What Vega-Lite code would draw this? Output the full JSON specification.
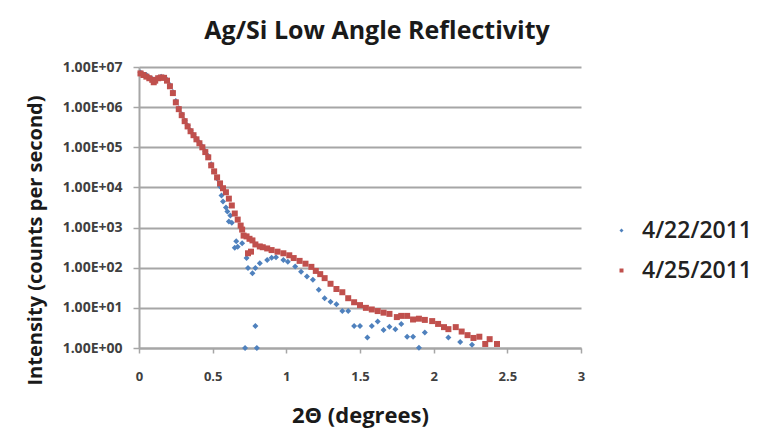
{
  "$schema": "https://vega.github.io/schema/vega-lite/v6.json",
  "width": 442,
  "height": 281,
  "autosize": {"type": "none"},
  "padding": {"left": 139, "top": 67, "right": 186, "bottom": 94},
  "background": "white",
  "config": {"view": {"stroke": null}},
  "title": {"text": "Ag/Si Low Angle Reflectivity", "font": "Open Sans", "fontSize": 25, "fontWeight": "bold", "color": "#1a1a1a", "anchor": "middle", "frame": "group", "dx": 17, "offset": -4, "baseline": "alphabetic"},
  "data": {"values": [
    {"angle": 0.01, "intensity": 7244000, "date": "4/22/2011"},
    {"angle": 0.03, "intensity": 6607000, "date": "4/22/2011"},
    {"angle": 0.05, "intensity": 6310000, "date": "4/22/2011"},
    {"angle": 0.07, "intensity": 5495000, "date": "4/22/2011"},
    {"angle": 0.09, "intensity": 5012000, "date": "4/22/2011"},
    {"angle": 0.11, "intensity": 4786000, "date": "4/22/2011"},
    {"angle": 0.13, "intensity": 5370000, "date": "4/22/2011"},
    {"angle": 0.15, "intensity": 5754000, "date": "4/22/2011"},
    {"angle": 0.17, "intensity": 5495000, "date": "4/22/2011"},
    {"angle": 0.19, "intensity": 4786000, "date": "4/22/2011"},
    {"angle": 0.21, "intensity": 3548000, "date": "4/22/2011"},
    {"angle": 0.23, "intensity": 2399000, "date": "4/22/2011"},
    {"angle": 0.25, "intensity": 1413000, "date": "4/22/2011"},
    {"angle": 0.27, "intensity": 933000, "date": "4/22/2011"},
    {"angle": 0.29, "intensity": 661000, "date": "4/22/2011"},
    {"angle": 0.31, "intensity": 468000, "date": "4/22/2011"},
    {"angle": 0.33, "intensity": 347000, "date": "4/22/2011"},
    {"angle": 0.35, "intensity": 263000, "date": "4/22/2011"},
    {"angle": 0.37, "intensity": 204000, "date": "4/22/2011"},
    {"angle": 0.39, "intensity": 162000, "date": "4/22/2011"},
    {"angle": 0.41, "intensity": 132000, "date": "4/22/2011"},
    {"angle": 0.43, "intensity": 105000, "date": "4/22/2011"},
    {"angle": 0.45, "intensity": 79400, "date": "4/22/2011"},
    {"angle": 0.47, "intensity": 60300, "date": "4/22/2011"},
    {"angle": 0.49, "intensity": 38000, "date": "4/22/2011"},
    {"angle": 0.51, "intensity": 25100, "date": "4/22/2011"},
    {"angle": 0.53, "intensity": 16600, "date": "4/22/2011"},
    {"angle": 0.55, "intensity": 10500, "date": "4/22/2011"},
    {"angle": 0.56, "intensity": 6310, "date": "4/22/2011"},
    {"angle": 0.57, "intensity": 4470, "date": "4/22/2011"},
    {"angle": 0.59, "intensity": 3160, "date": "4/22/2011"},
    {"angle": 0.60, "intensity": 2510, "date": "4/22/2011"},
    {"angle": 0.61, "intensity": 1410, "date": "4/22/2011"},
    {"angle": 0.62, "intensity": 2000, "date": "4/22/2011"},
    {"angle": 0.63, "intensity": 1320, "date": "4/22/2011"},
    {"angle": 0.65, "intensity": 316, "date": "4/22/2011"},
    {"angle": 0.66, "intensity": 457, "date": "4/22/2011"},
    {"angle": 0.67, "intensity": 331, "date": "4/22/2011"},
    {"angle": 0.70, "intensity": 407, "date": "4/22/2011"},
    {"angle": 0.72, "intensity": 1, "date": "4/22/2011"},
    {"angle": 0.73, "intensity": 174, "date": "4/22/2011"},
    {"angle": 0.74, "intensity": 97.7, "date": "4/22/2011"},
    {"angle": 0.77, "intensity": 72.4, "date": "4/22/2011"},
    {"angle": 0.79, "intensity": 97.7, "date": "4/22/2011"},
    {"angle": 0.79, "intensity": 3.55, "date": "4/22/2011"},
    {"angle": 0.80, "intensity": 1, "date": "4/22/2011"},
    {"angle": 0.82, "intensity": 129, "date": "4/22/2011"},
    {"angle": 0.87, "intensity": 155, "date": "4/22/2011"},
    {"angle": 0.90, "intensity": 178, "date": "4/22/2011"},
    {"angle": 0.93, "intensity": 182, "date": "4/22/2011"},
    {"angle": 0.98, "intensity": 155, "date": "4/22/2011"},
    {"angle": 1.01, "intensity": 141, "date": "4/22/2011"},
    {"angle": 1.06, "intensity": 107, "date": "4/22/2011"},
    {"angle": 1.10, "intensity": 79.4, "date": "4/22/2011"},
    {"angle": 1.14, "intensity": 60.3, "date": "4/22/2011"},
    {"angle": 1.18, "intensity": 50.1, "date": "4/22/2011"},
    {"angle": 1.22, "intensity": 28.2, "date": "4/22/2011"},
    {"angle": 1.26, "intensity": 17.4, "date": "4/22/2011"},
    {"angle": 1.30, "intensity": 14.1, "date": "4/22/2011"},
    {"angle": 1.34, "intensity": 12.3, "date": "4/22/2011"},
    {"angle": 1.38, "intensity": 8.32, "date": "4/22/2011"},
    {"angle": 1.42, "intensity": 8.32, "date": "4/22/2011"},
    {"angle": 1.46, "intensity": 3.55, "date": "4/22/2011"},
    {"angle": 1.50, "intensity": 3.55, "date": "4/22/2011"},
    {"angle": 1.55, "intensity": 1.82, "date": "4/22/2011"},
    {"angle": 1.58, "intensity": 3.55, "date": "4/22/2011"},
    {"angle": 1.62, "intensity": 4.57, "date": "4/22/2011"},
    {"angle": 1.66, "intensity": 2.82, "date": "4/22/2011"},
    {"angle": 1.70, "intensity": 3.39, "date": "4/22/2011"},
    {"angle": 1.74, "intensity": 2.95, "date": "4/22/2011"},
    {"angle": 1.78, "intensity": 3.98, "date": "4/22/2011"},
    {"angle": 1.82, "intensity": 1.91, "date": "4/22/2011"},
    {"angle": 1.86, "intensity": 1.91, "date": "4/22/2011"},
    {"angle": 1.90, "intensity": 1.02, "date": "4/22/2011"},
    {"angle": 1.94, "intensity": 2.45, "date": "4/22/2011"},
    {"angle": 2.10, "intensity": 1.82, "date": "4/22/2011"},
    {"angle": 2.18, "intensity": 1.41, "date": "4/22/2011"},
    {"angle": 2.26, "intensity": 1.20, "date": "4/22/2011"},
    {"angle": 0.01, "intensity": 6918000, "date": "4/25/2011"},
    {"angle": 0.03, "intensity": 6310000, "date": "4/25/2011"},
    {"angle": 0.05, "intensity": 5754000, "date": "4/25/2011"},
    {"angle": 0.07, "intensity": 5248000, "date": "4/25/2011"},
    {"angle": 0.09, "intensity": 4786000, "date": "4/25/2011"},
    {"angle": 0.10, "intensity": 4169000, "date": "4/25/2011"},
    {"angle": 0.11, "intensity": 4571000, "date": "4/25/2011"},
    {"angle": 0.13, "intensity": 5248000, "date": "4/25/2011"},
    {"angle": 0.15, "intensity": 5495000, "date": "4/25/2011"},
    {"angle": 0.17, "intensity": 5370000, "date": "4/25/2011"},
    {"angle": 0.19, "intensity": 4571000, "date": "4/25/2011"},
    {"angle": 0.21, "intensity": 3311000, "date": "4/25/2011"},
    {"angle": 0.23, "intensity": 2239000, "date": "4/25/2011"},
    {"angle": 0.25, "intensity": 1318000, "date": "4/25/2011"},
    {"angle": 0.27, "intensity": 891000, "date": "4/25/2011"},
    {"angle": 0.29, "intensity": 631000, "date": "4/25/2011"},
    {"angle": 0.31, "intensity": 447000, "date": "4/25/2011"},
    {"angle": 0.33, "intensity": 331000, "date": "4/25/2011"},
    {"angle": 0.35, "intensity": 251000, "date": "4/25/2011"},
    {"angle": 0.37, "intensity": 200000, "date": "4/25/2011"},
    {"angle": 0.39, "intensity": 158000, "date": "4/25/2011"},
    {"angle": 0.41, "intensity": 126000, "date": "4/25/2011"},
    {"angle": 0.43, "intensity": 100000, "date": "4/25/2011"},
    {"angle": 0.45, "intensity": 75900, "date": "4/25/2011"},
    {"angle": 0.47, "intensity": 56200, "date": "4/25/2011"},
    {"angle": 0.49, "intensity": 35500, "date": "4/25/2011"},
    {"angle": 0.51, "intensity": 25100, "date": "4/25/2011"},
    {"angle": 0.53, "intensity": 17800, "date": "4/25/2011"},
    {"angle": 0.55, "intensity": 12600, "date": "4/25/2011"},
    {"angle": 0.57, "intensity": 9550, "date": "4/25/2011"},
    {"angle": 0.59, "intensity": 7590, "date": "4/25/2011"},
    {"angle": 0.61, "intensity": 5250, "date": "4/25/2011"},
    {"angle": 0.63, "intensity": 3550, "date": "4/25/2011"},
    {"angle": 0.65, "intensity": 2240, "date": "4/25/2011"},
    {"angle": 0.67, "intensity": 1580, "date": "4/25/2011"},
    {"angle": 0.69, "intensity": 1120, "date": "4/25/2011"},
    {"angle": 0.70, "intensity": 891, "date": "4/25/2011"},
    {"angle": 0.71, "intensity": 631, "date": "4/25/2011"},
    {"angle": 0.73, "intensity": 603, "date": "4/25/2011"},
    {"angle": 0.74, "intensity": 229, "date": "4/25/2011"},
    {"angle": 0.75, "intensity": 525, "date": "4/25/2011"},
    {"angle": 0.76, "intensity": 251, "date": "4/25/2011"},
    {"angle": 0.77, "intensity": 479, "date": "4/25/2011"},
    {"angle": 0.79, "intensity": 380, "date": "4/25/2011"},
    {"angle": 0.82, "intensity": 339, "date": "4/25/2011"},
    {"angle": 0.84, "intensity": 324, "date": "4/25/2011"},
    {"angle": 0.87, "intensity": 302, "date": "4/25/2011"},
    {"angle": 0.90, "intensity": 275, "date": "4/25/2011"},
    {"angle": 0.94, "intensity": 251, "date": "4/25/2011"},
    {"angle": 0.98, "intensity": 229, "date": "4/25/2011"},
    {"angle": 1.02, "intensity": 204, "date": "4/25/2011"},
    {"angle": 1.05, "intensity": 174, "date": "4/25/2011"},
    {"angle": 1.09, "intensity": 148, "date": "4/25/2011"},
    {"angle": 1.13, "intensity": 126, "date": "4/25/2011"},
    {"angle": 1.17, "intensity": 105, "date": "4/25/2011"},
    {"angle": 1.20, "intensity": 83.2, "date": "4/25/2011"},
    {"angle": 1.23, "intensity": 69.2, "date": "4/25/2011"},
    {"angle": 1.26, "intensity": 55.0, "date": "4/25/2011"},
    {"angle": 1.30, "intensity": 39.8, "date": "4/25/2011"},
    {"angle": 1.34, "intensity": 29.5, "date": "4/25/2011"},
    {"angle": 1.38, "intensity": 24.5, "date": "4/25/2011"},
    {"angle": 1.42, "intensity": 17.4, "date": "4/25/2011"},
    {"angle": 1.46, "intensity": 13.8, "date": "4/25/2011"},
    {"angle": 1.50, "intensity": 11.7, "date": "4/25/2011"},
    {"angle": 1.54, "intensity": 10.0, "date": "4/25/2011"},
    {"angle": 1.58, "intensity": 9.12, "date": "4/25/2011"},
    {"angle": 1.62, "intensity": 8.32, "date": "4/25/2011"},
    {"angle": 1.66, "intensity": 7.59, "date": "4/25/2011"},
    {"angle": 1.70, "intensity": 7.08, "date": "4/25/2011"},
    {"angle": 1.75, "intensity": 5.89, "date": "4/25/2011"},
    {"angle": 1.78, "intensity": 6.31, "date": "4/25/2011"},
    {"angle": 1.82, "intensity": 6.31, "date": "4/25/2011"},
    {"angle": 1.86, "intensity": 5.13, "date": "4/25/2011"},
    {"angle": 1.90, "intensity": 5.37, "date": "4/25/2011"},
    {"angle": 1.94, "intensity": 5.01, "date": "4/25/2011"},
    {"angle": 1.99, "intensity": 4.68, "date": "4/25/2011"},
    {"angle": 2.03, "intensity": 3.98, "date": "4/25/2011"},
    {"angle": 2.07, "intensity": 3.31, "date": "4/25/2011"},
    {"angle": 2.10, "intensity": 2.95, "date": "4/25/2011"},
    {"angle": 2.15, "intensity": 3.31, "date": "4/25/2011"},
    {"angle": 2.19, "intensity": 2.57, "date": "4/25/2011"},
    {"angle": 2.23, "intensity": 2.09, "date": "4/25/2011"},
    {"angle": 2.27, "intensity": 1.78, "date": "4/25/2011"},
    {"angle": 2.31, "intensity": 1.91, "date": "4/25/2011"},
    {"angle": 2.35, "intensity": 1.26, "date": "4/25/2011"},
    {"angle": 2.38, "intensity": 1.66, "date": "4/25/2011"},
    {"angle": 2.43, "intensity": 1.26, "date": "4/25/2011"}
  ]},
  "mark": {"type": "point", "filled": true, "size": 36, "opacity": 1},
  "encoding": {
    "x": {
      "field": "angle", "type": "quantitative",
      "scale": {"domain": [0, 3], "nice": false, "zero": false},
      "axis": {
        "values": [0, 0.5, 1, 1.5, 2, 2.5, 3], "format": "~g", "grid": false,
        "domain": true, "domainColor": "#a6a6a6", "domainWidth": 2,
        "ticks": true, "tickColor": "#a6a6a6", "tickSize": 5, "tickWidth": 1.5,
        "labelPadding": 17, "labelFont": "Open Sans", "labelFontSize": 13, "labelFontWeight": "bold", "labelColor": "#404040", "labelFlush": false,
        "title": "2Θ (degrees)", "titleFont": "Open Sans", "titleFontSize": 22, "titleFontWeight": "bold", "titleColor": "#1a1a1a",
        "titleY": 74, "titleBaseline": "alphabetic"
      }
    },
    "y": {
      "field": "intensity", "type": "quantitative",
      "scale": {"type": "log", "domain": [1, 10000000], "nice": false},
      "axis": {
        "values": [1, 10, 100, 1000, 10000, 100000, 1000000, 10000000],
        "labelExpr": "'1.00E+0' + round(log(datum.value) / LN10)",
        "grid": true, "gridColor": "#a6a6a6", "gridWidth": 2,
        "domain": true, "domainColor": "#a6a6a6", "domainWidth": 2,
        "ticks": true, "tickColor": "#a6a6a6", "tickSize": 6, "tickWidth": 1.5,
        "labelPadding": 11, "labelFont": "Open Sans", "labelFontSize": 14, "labelFontWeight": "bold", "labelColor": "#404040",
        "title": "Intensity (counts per second)", "titleFont": "Open Sans", "titleFontSize": 20, "titleFontWeight": "bold", "titleColor": "#1a1a1a",
        "titleX": -104, "titleY": 173, "titleAngle": 270, "titleBaseline": "middle", "titleAlign": "center"
      }
    },
    "color": {
      "field": "date", "type": "nominal",
      "scale": {"domain": ["4/22/2011", "4/25/2011"], "range": ["#4f81bd", "#c0504d"]},
      "legend": {
        "orient": "none", "legendX": 471, "legendY": 152, "title": null,
        "labelFont": "Open Sans", "labelFontSize": 23, "labelFontWeight": 600, "labelColor": "#222222",
        "symbolSize": 16, "labelOffset": 9, "rowPadding": 16
      }
    },
    "shape": {
      "field": "date", "type": "nominal",
      "scale": {"domain": ["4/22/2011", "4/25/2011"], "range": ["diamond", "square"]}
    }
  }
}
